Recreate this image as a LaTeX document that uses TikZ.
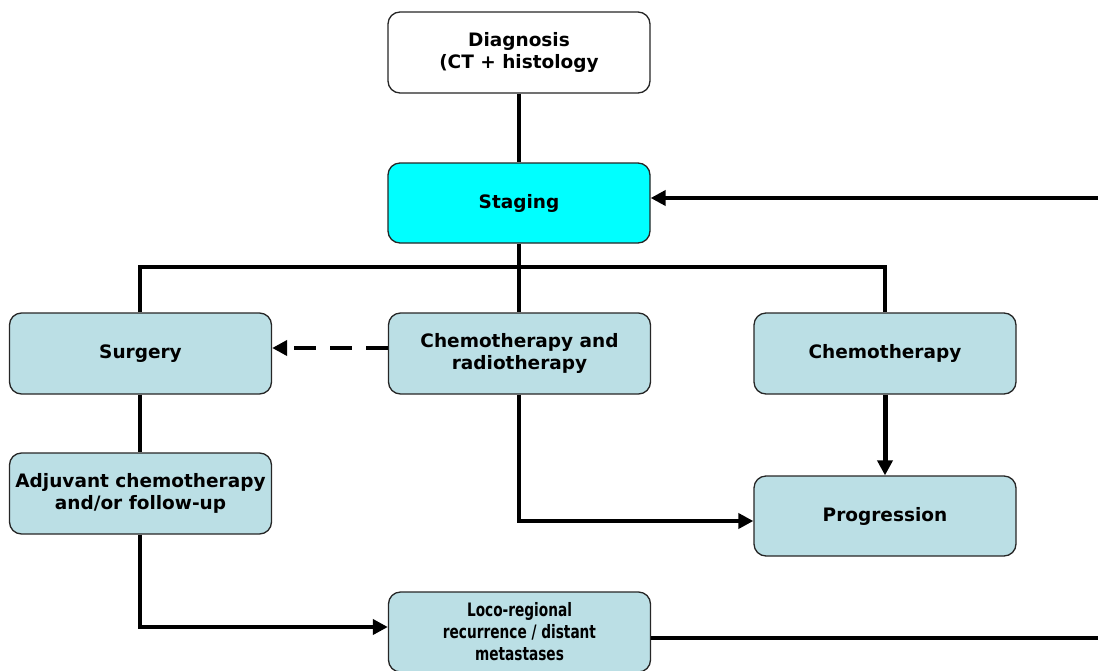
\documentclass[tikz,border=0pt]{standalone}
\usepackage{fontspec}
\setmainfont{DejaVu Sans}
\newfontfamily\condfont[FakeStretch=0.74]{DejaVu Sans}
\usetikzlibrary{arrows.meta}
\definecolor{boxblue}{HTML}{BBDFE5}
\definecolor{stagecyan}{HTML}{00FFFF}
\tikzset{
  box/.style={draw=black!85, line width=1.3pt, rounded corners=12pt, fill=boxblue,
    minimum width=262pt, minimum height=81pt, align=center, inner sep=2pt,
    font=\fontsize{18.5}{22}\selectfont\bfseries},
  conn/.style={line width=4pt},
  tip/.style={-{Triangle[length=15pt,width=15pt]}},
}
\begin{document}
\begin{tikzpicture}[x=1pt,y=-1pt]
\useasboundingbox (0,0) rectangle (1098,670);
\node[box, fill=white] (diag) at (519,52.5) {Diagnosis\\(CT + histology};
\node[box, fill=stagecyan, minimum height=80pt] (stag) at (519,203) {Staging};
\node[box] (surg) at (140.5,353.5) {Surgery};
\node[box] (crt) at (519.5,353.5) {Chemotherapy and\\radiotherapy};
\node[box] (chemo) at (885,353.5) {Chemotherapy};
\node[box] (adj) at (140.5,493.5) {Adjuvant chemotherapy\\and/or follow-up};
\node[box, minimum height=80pt] (prog) at (885,516) {Progression};
\node[box, minimum height=80pt, font=\fontsize{18.5}{22}\selectfont\condfont\bfseries] (loco) at (519.5,632) {Loco-regional\\recurrence / distant\\metastases};

\coordinate (bl) at (140,267);
\coordinate (br) at (885,267);
\coordinate (sm) at (519,267);
\coordinate (rtop) at (1098,198);
\coordinate (rbot) at (1098,638);

\draw[conn] (diag.south) -- (stag.north);
\draw[conn] (stag.south) -- (crt.north -| stag.south);
\draw[conn] (surg.north -| bl) |- (br) -- (chemo.north -| br);
\draw[conn, tip, dashed, dash pattern=on 22pt off 14pt] (crt.west |- 0,348) -- (surg.east |- 0,348);
\draw[conn] (surg.south -| bl) -- (adj.north -| bl);
\draw[conn, tip] (adj.south -| bl) |- (loco.west |- 0,627);
\draw[conn, tip] (crt.south -| sm) |- (prog.west |- 0,521);
\draw[line width=5pt, tip] (chemo.south) -- (prog.north);
\draw[conn] (loco.east |- rbot) -- (rbot);
\draw[conn, tip] (rtop) -- (stag.east |- rtop);
\end{tikzpicture}
\end{document}
